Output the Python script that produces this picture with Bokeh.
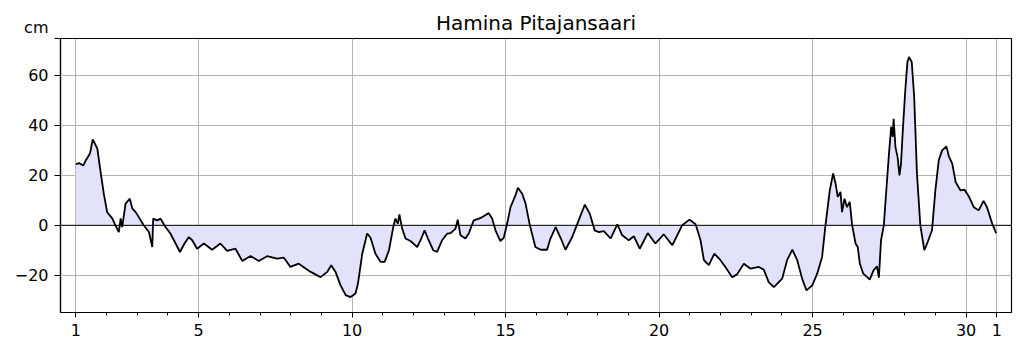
from bokeh.plotting import figure
from bokeh.models import ColumnDataSource, Range1d, FixedTicker, Span
from bokeh.embed import file_html
from bokeh.resources import INLINE

title_text = "Hamina Pitajansaari"
unit_label = "cm"

days = [1.00, 1.10, 1.24, 1.32, 1.46, 1.55, 1.70, 1.80, 1.91, 2.02, 2.19, 2.29, 2.40, 2.46, 2.51,
        2.62, 2.76, 2.84, 2.95, 3.05, 3.21, 3.38, 3.49, 3.52, 3.65, 3.76, 3.92, 4.08, 4.25, 4.39,
        4.54, 4.68, 4.79, 4.95, 5.17, 5.44, 5.71, 5.93, 6.20, 6.42, 6.69, 6.96, 7.23, 7.56, 7.78,
        7.99, 8.26, 8.65, 8.97, 9.19, 9.32, 9.46, 9.62, 9.79, 9.95, 10.11, 10.19, 10.33, 10.49,
        10.60, 10.76, 10.93, 11.06, 11.20, 11.34, 11.41, 11.49, 11.54, 11.63, 11.74, 11.90, 12.12,
        12.23, 12.36, 12.47, 12.64, 12.77, 12.93, 13.10, 13.21, 13.37, 13.44, 13.53, 13.69, 13.80,
        13.96, 14.13, 14.24, 14.45, 14.56, 14.67, 14.83, 14.94, 15.05, 15.16, 15.32, 15.40, 15.54,
        15.65, 15.79, 15.97, 16.14, 16.35, 16.46, 16.63, 16.79, 16.95, 17.17, 17.38, 17.58, 17.74,
        17.90, 18.04, 18.20, 18.42, 18.64, 18.80, 19.01, 19.18, 19.37, 19.63, 19.88, 20.15, 20.43,
        20.59, 20.75, 20.99, 21.19, 21.35, 21.46, 21.62, 21.80, 22.00, 22.16, 22.38, 22.54, 22.76,
        22.98, 23.25, 23.41, 23.57, 23.74, 24.01, 24.17, 24.34, 24.50, 24.66, 24.80, 24.99, 25.15,
        25.31, 25.42, 25.56, 25.67, 25.75, 25.82, 25.91, 25.96, 26.04, 26.12, 26.21, 26.29, 26.40,
        26.47, 26.54, 26.65, 26.78, 26.86, 26.99, 27.10, 27.16, 27.23, 27.32, 27.41, 27.48, 27.56,
        27.61, 27.64, 27.70, 27.77, 27.83, 27.88, 27.94, 28.02, 28.09, 28.14, 28.23, 28.31, 28.40,
        28.51, 28.64, 28.75, 28.89, 29.00, 29.11, 29.22, 29.36, 29.44, 29.55, 29.66, 29.82, 29.95,
        30.09, 30.25, 30.41, 30.57, 30.68, 30.85, 30.98]

level_cm = [24.5, 25.0, 24.0, 26.0, 28.8, 34.5, 30.8, 22.0, 12.7, 5.3, 2.7, 0.0, -2.7, 2.8, -0.7,
            8.7, 10.7, 6.7, 5.3, 3.3, 0.0, -2.7, -8.7, 2.7, 2.0, 2.7, -0.7, -3.3, -7.3, -10.7,
            -7.3, -4.7, -6.0, -9.4, -7.3, -9.8, -7.3, -10.3, -9.4, -14.3, -12.3, -14.3, -12.4, -13.4, -13.0,
            -16.7, -15.4, -18.7, -20.8, -18.7, -16.0, -18.7, -24.0, -28.0, -28.8, -27.4, -23.4, -11.4, -3.3,
            -5.0, -11.4, -14.7, -14.7, -10.0, -0.7, 2.7, 0.7, 4.4, -1.3, -5.3, -6.3, -8.7,
            -6.0, -2.0, -5.3, -10.0, -10.7, -6.0, -3.3, -3.1, -1.3, 2.3, -4.0, -5.3, -3.3,
            2.0, 2.7, 3.3, 4.9, 2.7, -2.0, -6.3, -5.0, 0.7, 7.3, 12.0, 15.1, 12.7,
            8.7, 0.0, -8.7, -9.8, -9.8, -5.3, -0.7, -5.0, -9.8, -4.7, 2.0, 8.3, 4.7,
            -2.0, -2.7, -2.3, -5.3, 0.4, -4.0, -6.0, -4.4, -9.4, -3.1, -7.3, -3.6, -8.0,
            -4.0, 0.0, 2.3, 0.4, -6.0, -14.0, -16.0, -11.4, -14.0, -16.7, -20.8, -19.7, -15.4,
            -17.4, -16.7, -17.8, -22.8, -24.8, -21.4, -14.0, -9.8, -14.0, -21.4, -26.1, -24.1, -19.4,
            -12.7, 0.0, 14.0, 20.8, 16.7, 11.4, 13.4, 5.3, 10.7, 7.3, 9.4, 0.0, -7.3,
            -8.7, -15.4, -19.4, -20.8, -21.8, -18.0, -16.5, -21.0, -6.0, 0.0, 15.4, 27.4, 39.5,
            35.5, 42.8, 31.4, 27.4, 20.0, 24.8, 38.2, 54.2, 65.6, 67.6, 65.6, 51.5, 20.8,
            0.0, -10.0, -6.7, -2.0, 14.0, 26.1, 30.1, 31.7, 27.7, 24.8, 17.4, 14.0, 14.3,
            11.6, 7.3, 6.0, 9.8, 7.3, 0.7, -3.1]

x_ticks = [1, 5, 10, 15, 20, 25, 30, 31]
x_tick_labels = ["1", "5", "10", "15", "20", "25", "30", "1"]
x_minor = list(range(1, 32))
y_ticks = [-20, 0, 20, 40, 60]
y_tick_labels = ["\u221220", "0", "20", "40", "60"]
y_min, y_max = -35, 75

FONT = "DejaVu Sans"

src = ColumnDataSource(dict(x=days, y=level_cm, zero=[0.0] * len(days)))

p = figure(width=1023, height=352, output_backend="svg", toolbar_location=None,
           x_range=Range1d(0.5, 31.48), y_range=Range1d(y_min, y_max),
           min_border_left=60, min_border_right=12, min_border_top=38, min_border_bottom=40)

p.title.text = title_text
p.title.align = "center"
p.title.text_font = FONT
p.title.text_font_size = "20px"
p.title.text_font_style = "normal"
p.title.text_color = "black"
p.title.offset = 4
p.title.standoff = 8

p.outline_line_color = "black"
p.outline_line_width = 1.2
p.background_fill_color = "white"
p.border_fill_color = "white"

p.varea(x="x", y1="zero", y2="y", source=src, fill_color="#e2e2fa", fill_alpha=1.0)
p.add_layout(Span(location=0, dimension="width", line_color="black", line_width=1))
p.line(x="x", y="y", source=src, line_color="black", line_width=1.8)

xa = p.xaxis[0]
xa.ticker = FixedTicker(ticks=x_ticks, minor_ticks=x_minor)
xa.major_label_overrides = {t: l for t, l in zip(x_ticks, x_tick_labels)}
ya = p.yaxis[0]
# the unit label sits on the left axis at the top of the frame, lifted above it
ya.ticker = FixedTicker(ticks=y_ticks + [y_max])
overrides = {t: l for t, l in zip(y_ticks, y_tick_labels)}
overrides[y_max] = unit_label + "\n"
ya.major_label_overrides = overrides

for ax in (xa, ya):
    ax.axis_line_color = "black"
    ax.axis_line_width = 1.2
    ax.major_tick_line_color = "black"
    ax.major_tick_in = 0
    ax.major_tick_out = 5
    ax.minor_tick_line_color = "black"
    ax.minor_tick_in = 0
    ax.minor_tick_out = 3
    ax.major_label_text_font = FONT
    ax.major_label_text_font_size = "16px"
    ax.major_label_text_color = "black"
xa.major_label_standoff = 6
ya.major_tick_out = 6
ya.major_label_standoff = 6

p.xgrid.grid_line_color = "#b4b4b4"
p.xgrid.grid_line_width = 1
p.xgrid.ticker = FixedTicker(ticks=x_ticks)
p.ygrid.grid_line_color = "#b4b4b4"
p.ygrid.grid_line_width = 1
p.ygrid.ticker = FixedTicker(ticks=y_ticks)

open("out.html", "w").write(file_html(p, INLINE))
